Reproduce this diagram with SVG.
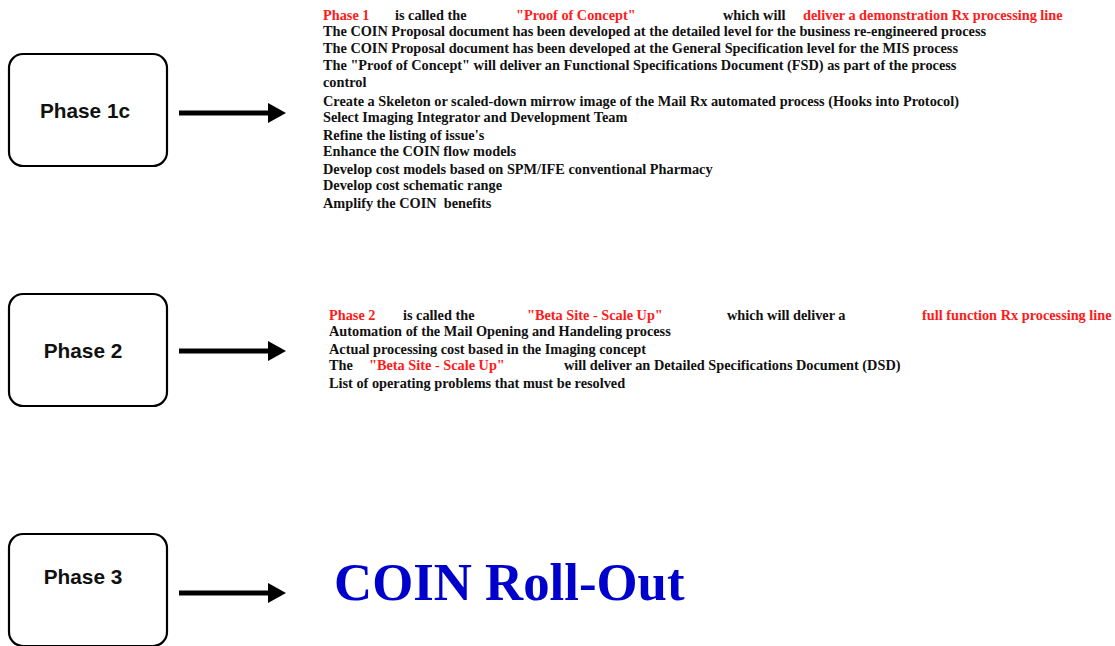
<svg xmlns="http://www.w3.org/2000/svg" width="1115" height="646" viewBox="0 0 1115 646">
<style>
.box{fill:#fff;stroke:#000;stroke-width:2.2}
.lbl{font-family:"Liberation Sans",Arial,sans-serif;font-weight:bold;font-size:20.8px;fill:#111;text-anchor:middle}
.t{font-family:"Liberation Serif","Times New Roman",serif;font-weight:bold;font-size:14.3px;fill:#111}
.r{fill:#ff1a1a}
.big{font-family:"Liberation Serif","Times New Roman",serif;font-weight:bold;font-size:52.8px;fill:#0000cc}
.conn line{stroke:#000;stroke-width:5}
</style>
<defs>
<marker id="ah" markerWidth="4" markerHeight="4" refX="0" refY="2" orient="auto" markerUnits="strokeWidth">
<path d="M0,0 L3.6,2 L0,4 Z" fill="#000"/>
</marker>
</defs>
<g id="phase1c"><rect class="box" x="9" y="54" width="158" height="112" rx="14"/><text class="lbl" x="85" y="118">Phase 1c</text></g>
<g id="phase2"><rect class="box" x="9" y="294" width="158" height="112" rx="14"/><text class="lbl" x="83" y="358">Phase 2</text></g>
<g id="phase3"><rect class="box" x="9" y="534" width="158" height="112" rx="14"/><text class="lbl" x="83" y="584">Phase 3</text></g>
<g id="connectors" class="conn">
<line x1="179" y1="113" x2="268" y2="113" marker-end="url(#ah)"/>
<line x1="179" y1="351" x2="268" y2="351" marker-end="url(#ah)"/>
<line x1="179" y1="593" x2="268" y2="593" marker-end="url(#ah)"/>
</g>
<g id="phase1-text" class="t">
<text x="323" y="20" class="r">Phase 1</text>
<text x="395" y="20">is called the</text>
<text x="516" y="20" class="r">"Proof of Concept"</text>
<text x="723" y="20">which will</text>
<text x="803" y="20" class="r">deliver a demonstration Rx processing line</text>
<text x="323" y="36">The COIN Proposal document has been developed at the detailed level for the business re-engineered process</text>
<text x="323" y="53">The COIN Proposal document has been developed at the General Specification level for the MIS process</text>
<text x="323" y="70">The "Proof of Concept" will deliver an Functional Specifications Document (FSD) as part of the process</text>
<text x="323" y="87">control</text>
<text x="323" y="106">Create a Skeleton or scaled-down mirrow image of the Mail Rx automated process (Hooks into Protocol)</text>
<text x="323" y="122">Select Imaging Integrator and Development Team</text>
<text x="323" y="140">Refine the listing of issue's</text>
<text x="323" y="156">Enhance the COIN flow models</text>
<text x="323" y="174">Develop cost models based on SPM/IFE conventional Pharmacy</text>
<text x="323" y="190">Develop cost schematic range</text>
<text x="323" y="208" xml:space="preserve">Amplify the COIN  benefits</text>
</g>
<g id="phase2-text" class="t">
<text x="329" y="320" class="r">Phase 2</text>
<text x="403" y="320">is called the</text>
<text x="527" y="320" class="r">"Beta Site - Scale Up"</text>
<text x="727" y="320">which will deliver a</text>
<text x="922" y="320" class="r">full function Rx processing line</text>
<text x="329" y="336">Automation of the Mail Opening and Handeling process</text>
<text x="329" y="354">Actual processing cost based in the Imaging concept</text>
<text x="329" y="370">The</text>
<text x="369" y="370" class="r">"Beta Site - Scale Up"</text>
<text x="564" y="370">will deliver an Detailed Specifications Document (DSD)</text>
<text x="329" y="388">List of operating problems that must be resolved</text>
</g>
<g id="phase3-text"><text class="big" x="334" y="600">COIN Roll-Out</text></g>
</svg>
